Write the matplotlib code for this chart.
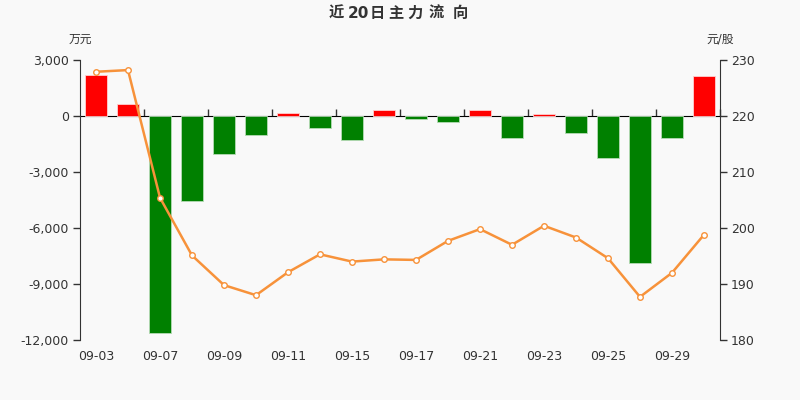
import matplotlib
matplotlib.use("Agg")
import matplotlib.pyplot as plt
import numpy as np

plt.rcParams['font.family'] = ['DejaVu Sans', 'Noto Sans CJK SC']

dates = ["09-03", "09-04", "09-07", "09-08", "09-09", "09-10", "09-11", "09-14",
         "09-15", "09-16", "09-17", "09-18", "09-21", "09-22", "09-23", "09-24",
         "09-25", "09-28", "09-29", "09-30"]
flow = [2200, 660, -11640, -4550, -2050, -1040, 140, -660, -1300, 300,
        -140, -340, 340, -1200, 110, -930, -2270, -7890, -1160, 2160]
price = [227.9, 228.2, 205.4, 195.1, 189.8, 188.0, 192.1, 195.3, 194.0, 194.4,
         194.3, 197.7, 199.8, 197.0, 200.4, 198.3, 194.6, 187.7, 192.0, 198.8]
title_parts = ["近", "20", "日", "主", "力", "流", "向"]

bg = "#f9f9f9"
txt = "#333333"
fig = plt.figure(figsize=(8, 4), dpi=100, facecolor=bg)
ax = fig.add_axes([0.1, 0.15, 0.8, 0.7])
ax.set_facecolor(bg)

x = np.arange(len(dates))
colors = ["#ff0000" if v >= 0 else "#008000" for v in flow]
edges = ["#ffd0d0" if v >= 0 else "#b5dbb5" for v in flow]
ax.bar(x, flow, width=0.69, color=colors, edgecolor=edges, linewidth=0.6, zorder=2)

ax.set_xlim(-0.5, len(dates) - 0.5)
ax.set_ylim(-12000, 3000)
ax.set_yticks([3000, 0, -3000, -6000, -9000, -12000])
ax.set_yticklabels(["3,000", "0", "-3,000", "-6,000", "-9,000", "-12,000"])
ax.set_xticks(x[::2])
ax.set_xticklabels(dates[::2])
ax.tick_params(axis='x', length=0, pad=7, colors=txt, labelsize=9)
ax.tick_params(axis='y', length=5, width=1, colors=txt, labelsize=9, pad=3)
for s in ["top", "right", "bottom"]:
    ax.spines[s].set_visible(False)
ax.spines["left"].set_color(txt)

# zero axis line with boundary ticks
sec = ax.secondary_xaxis(0.8)
sec.set_xticks(np.arange(1.5, len(dates), 2))
sec.tick_params(axis='x', length=5, width=1, colors=txt, direction='out')
sec.set_xticklabels([])
sec.spines["bottom"].set_color(txt)
sec.spines["bottom"].set_linewidth(1)

ax2 = ax.twinx()
ax2.plot(x, price, color="#f7923a", linewidth=1.8, marker="o", markersize=4,
         markerfacecolor="white", markeredgecolor="#f7923a", markeredgewidth=1, zorder=3)
ax2.set_ylim(180, 230)
ax2.set_yticks([180, 190, 200, 210, 220, 230])
ax2.tick_params(axis='y', length=5, width=1, colors=txt, labelsize=9, pad=3)
for s in ["top", "left", "bottom"]:
    ax2.spines[s].set_visible(False)
ax2.spines["right"].set_color(txt)

# title, characters spaced out as in the reference
title_x = [336.7, 358.3, 377.5, 395.7, 415.0, 435.7, 460.3]
for part, px in zip(title_parts, title_x):
    fig.text(px / 800, 1 - 13.5 / 400, part, ha="center", va="center", fontsize=11,
             fontweight="bold", color=txt)
fig.text(0.1, 1 - 39 / 400, "万元", ha="center", va="center", fontsize=8.5, color=txt)
fig.text(0.9, 1 - 39 / 400, "元/股", ha="center", va="center", fontsize=8.5, color=txt)

fig.savefig("out.png", dpi=100, facecolor=bg)
